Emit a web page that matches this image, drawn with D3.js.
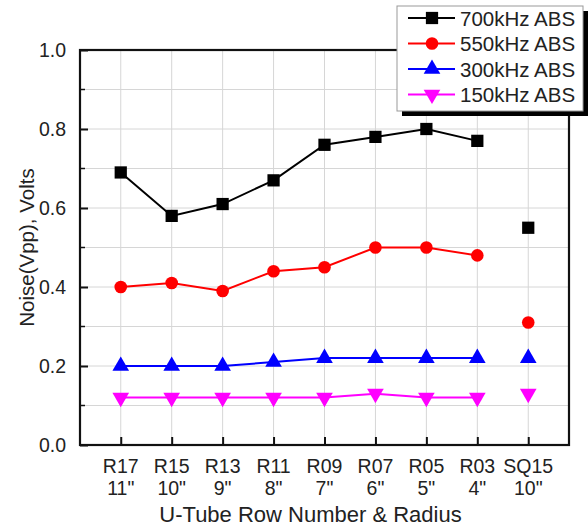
<!DOCTYPE html>
<html>
<head>
<meta charset="utf-8">
<script src="https://cdn.jsdelivr.net/npm/d3@7"></script>
<style>
  body { margin: 0; background: #fff; }
  text { font-family: Arial, "Liberation Sans", sans-serif; fill: #222; }
</style>
</head>
<body>
<div id="container"><svg></svg></div>
<script>
// 数据
const rows = ["R17", "R15", "R13", "R11", "R09", "R07", "R05", "R03", "SQ15"];
const radii = ['11"', '10"', '9"', '8"', '7"', '6"', '5"', '4"', '10"'];
const yTicks = [0.0, 0.2, 0.4, 0.6, 0.8, 1.0];

const noise700 = [0.69, 0.58, 0.61, 0.67, 0.76, 0.78, 0.80, 0.77, 0.55];
const noise550 = [0.40, 0.41, 0.39, 0.44, 0.45, 0.50, 0.50, 0.48, 0.31];
const noise300 = [0.20, 0.20, 0.20, 0.21, 0.22, 0.22, 0.22, 0.22, 0.22];
const noise150 = [0.12, 0.12, 0.12, 0.12, 0.12, 0.13, 0.12, 0.12, 0.13];

const seriesNames = ["700kHz ABS", "550kHz ABS", "300kHz ABS", "150kHz ABS"];

// SQ15 不与 R 系列相连
const lastJoined = 7;

let width = 588, height = 526;
let margin = { left: 80, right: 19, top: 50, bottom: 81 };

let svg = d3.select('#container').select('svg')
    .attr('width', width)
    .attr('height', height);

let x = d3.scaleLinear().domain([-0.8, 8.8]).range([margin.left, width - margin.right]);
let y = d3.scaleLinear().domain([0, 1]).range([height - margin.bottom, margin.top]);

const x0 = margin.left, x1 = width - margin.right;
const y0 = height - margin.bottom, y1 = margin.top;

// 网格
let grid = svg.append("g").attr("stroke", "#d6d6d6").attr("stroke-width", 1);
grid.selectAll("line.v").data(rows).join("line")
    .attr("class", "v")
    .attr("x1", (d, i) => x(i)).attr("x2", (d, i) => x(i))
    .attr("y1", y0).attr("y2", y1);
grid.selectAll("line.h").data(d3.range(1, 10).map(d => d / 10)).join("line")
    .attr("class", "h")
    .attr("x1", x0).attr("x2", x1)
    .attr("y1", d => y(d)).attr("y2", d => y(d));

// 坐标轴
let yAxis = svg.append("g")
    .attr("transform", `translate(${x0},0)`)
    .call(d3.axisLeft(y).tickValues(yTicks).tickFormat(d3.format(".1f"))
        .tickSizeInner(-8).tickSizeOuter(0).tickPadding(14));
yAxis.select(".domain").remove();
yAxis.selectAll("line").attr("stroke", "#111").attr("stroke-width", 2);
yAxis.selectAll("text").attr("font-size", 19.5).style("fill", "#222");

// 次刻度
svg.append("g").selectAll("line").data([0.1, 0.3, 0.5, 0.7, 0.9]).join("line")
    .attr("x1", x0).attr("x2", x0 + 5)
    .attr("y1", d => y(d)).attr("y2", d => y(d))
    .attr("stroke", "#111").attr("stroke-width", 1.5);

let xAxis = svg.append("g")
    .attr("transform", `translate(0,${y0})`)
    .call(d3.axisBottom(x).tickValues(d3.range(rows.length)).tickFormat("")
        .tickSizeInner(-8).tickSizeOuter(0));
xAxis.select(".domain").remove();
xAxis.selectAll("line").attr("stroke", "#111").attr("stroke-width", 2);

// 两行 x 标签
let xl = svg.append("g").selectAll("text").data(rows).join("text")
    .attr("x", (d, i) => x(i))
    .attr("text-anchor", "middle")
    .attr("font-size", 19.5);
xl.append("tspan").attr("x", (d, i) => x(i)).attr("y", y0 + 28).text(d => d);
xl.append("tspan").attr("x", (d, i) => x(i)).attr("y", y0 + 50).text((d, i) => radii[i]);

// 边框
svg.append("rect")
    .attr("x", x0).attr("y", y1)
    .attr("width", x1 - x0).attr("height", y0 - y1)
    .attr("fill", "none").attr("stroke", "#111").attr("stroke-width", 2.2);

// 轴标题
svg.append("text")
    .attr("x", (x0 + x1) / 2 - 14).attr("y", 522)
    .attr("text-anchor", "middle").attr("font-size", 22)
    .text("U-Tube Row Number & Radius");
svg.append("text")
    .attr("transform", `translate(34,${(y0 + y1) / 2}) rotate(-90)`)
    .attr("text-anchor", "middle").attr("font-size", 20.5)
    .text("Noise(Vpp), Volts");

// 数据系列
const series = [
    { name: seriesNames[0], values: noise700, color: "#000000", shape: d3.symbolSquare, size: 150, rot: 0 },
    { name: seriesNames[1], values: noise550, color: "#ff0000", shape: d3.symbolCircle, size: 125, rot: 0 },
    { name: seriesNames[2], values: noise300, color: "#0000ff", shape: d3.symbolTriangle, size: 120, rot: 0 },
    { name: seriesNames[3], values: noise150, color: "#ff00ff", shape: d3.symbolTriangle, size: 120, rot: 180 }
];

let line = d3.line().x((d, i) => x(i)).y(d => y(d));

series.forEach(s => {
    svg.append("path")
        .datum(s.values.slice(0, lastJoined + 1))
        .attr("fill", "none")
        .attr("stroke", s.color)
        .attr("stroke-width", 2)
        .attr("d", line);
    svg.append("g").selectAll("path").data(s.values).join("path")
        .attr("d", d3.symbol().type(s.shape).size(s.size))
        .attr("transform", (d, i) => `translate(${x(i)},${y(d)}) rotate(${s.rot})`)
        .attr("fill", s.color);
});

// 图例
let lg = svg.append("g").attr("transform", "translate(397,6)");
const lw = 186, lh = 105;
lg.append("rect").attr("x", 5).attr("y", 5).attr("width", lw).attr("height", lh).attr("fill", "#000");
lg.append("rect").attr("x", 0).attr("y", 0).attr("width", lw).attr("height", lh)
    .attr("fill", "#fff").attr("stroke", "#999").attr("stroke-width", 1);
series.forEach((s, i) => {
    let cy = 12 + i * 25.5;
    lg.append("line").attr("x1", 11).attr("x2", 58).attr("y1", cy).attr("y2", cy)
        .attr("stroke", s.color).attr("stroke-width", 2);
    lg.append("path")
        .attr("d", d3.symbol().type(s.shape).size(s.size))
        .attr("transform", `translate(35,${cy}) rotate(${s.rot})`)
        .attr("fill", s.color);
    lg.append("text").attr("x", 63).attr("y", cy + 7.5).attr("font-size", 20.5).text(s.name);
});
</script>
</body>
</html>
